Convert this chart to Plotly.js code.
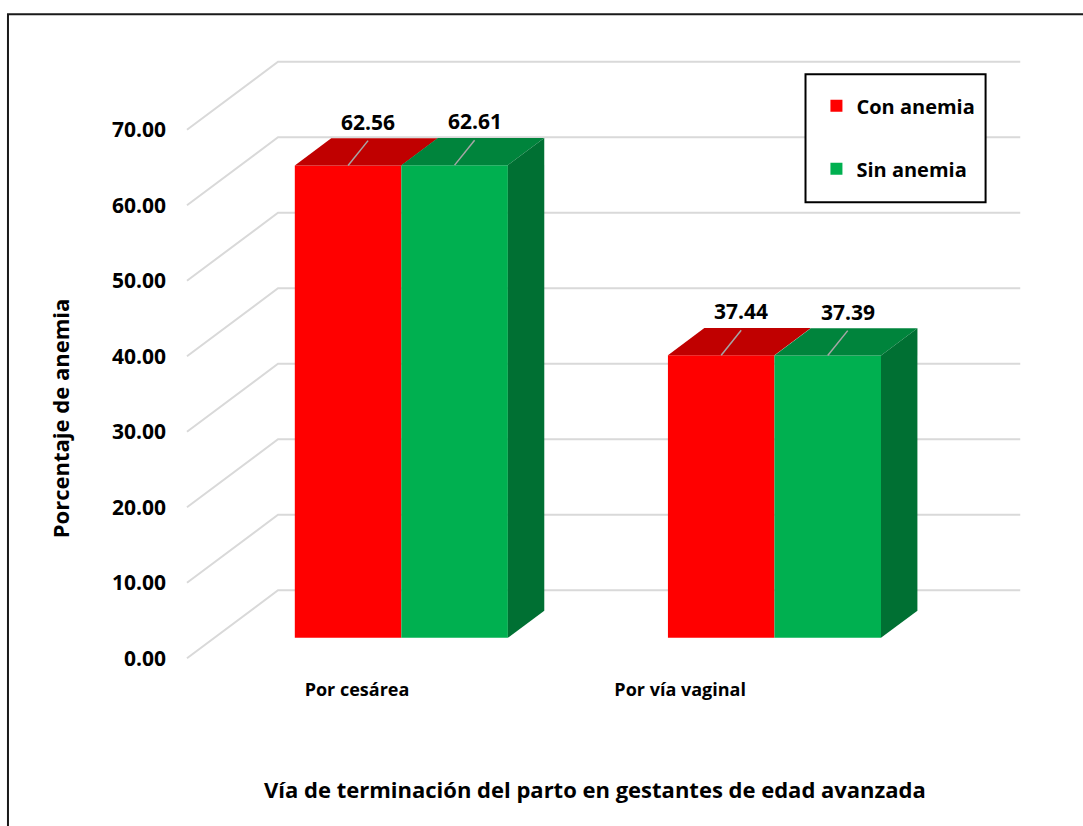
<!DOCTYPE html>
<html>
<head>
<meta charset="utf-8">
<script src="https://cdn.plot.ly/plotly-3.0.1.min.js"></script>
<style>
  html, body { margin: 0; padding: 0; background: #ffffff; }
  #chart { width: 1083px; height: 826px; }
</style>
</head>
<body>
<div id="chart"></div>
<script>
// ---------- data ----------
const categories = ['Por cesárea', 'Por vía vaginal'];
const seriesNames = ['Con anemia', 'Sin anemia'];
const conAnemia = [62.56, 37.44];
const sinAnemia = [62.61, 37.39];
const yTickVals = [0, 10, 20, 30, 40, 50, 60, 70];
const yTickText = ['0.00', '10.00', '20.00', '30.00', '40.00', '50.00', '60.00', '70.00'];
const xTitle = 'Vía de terminación del parto en gestantes de edad avanzada';
const yTitle = 'Porcentaje de anemia';

// ---------- pseudo-3D geometry (axis units) ----------
const DEPTH_X = 0.244;   // full floor depth, x units
const DEPTH_Y = 9.0;     // full floor depth, y units
const T_FRONT = 0.3;     // bar front plane (fraction of depth)
const T_BACK = 0.7;      // bar back plane
const BAR_W = 0.2855;
const X_LEFT = -0.5013;
const X_RIGHT = 1.7319;
const LEADER_DX = 0.0536, LEADER_DY = 3.3;
const CAT_LABEL_POS = [-0.0456, 0.8204];

const dxF = T_FRONT * DEPTH_X, dyF = T_FRONT * DEPTH_Y;
const dxB = T_BACK * DEPTH_X, dyB = T_BACK * DEPTH_Y;

const FONT = 'Open Sans, Noto Sans, sans-serif';
const colors = {
  front: ['#FF0000', '#00B050'],
  top: ['#C00000', '#00843C'],
  side: ['#A00000', '#007033']
};
const seriesValues = [conAnemia, sinAnemia];

const traces = [];
const annotations = [];

// front faces as bars
seriesValues.forEach((vals, s) => {
  traces.push({
    type: 'bar',
    name: seriesNames[s],
    legendgroup: 'g' + s,
    x: categories.map((c, i) => i + dxF),
    y: vals,
    base: vals.map(() => dyF),
    width: BAR_W,
    offset: s === 0 ? -BAR_W : 0,
    marker: { color: colors.front[s], line: { width: 0 } },
    hoverinfo: 'skip'
  });
});

// top faces & visible side faces
seriesValues.forEach((vals, s) => {
  vals.forEach((v, i) => {
    const x0 = s === 0 ? i - BAR_W : i;
    const x1 = s === 0 ? i : i + BAR_W;
    traces.push({
      type: 'scatter', mode: 'lines', fill: 'toself', showlegend: false, hoverinfo: 'skip',
      x: [x0 + dxF, x1 + dxF, x1 + dxB, x0 + dxB, x0 + dxF],
      y: [v + dyF, v + dyF, v + dyB, v + dyB, v + dyF],
      fillcolor: colors.top[s], line: { width: 0, color: colors.top[s] }
    });
    if (s === 1) {
      traces.push({
        type: 'scatter', mode: 'lines', fill: 'toself', showlegend: false, hoverinfo: 'skip',
        x: [x1 + dxF, x1 + dxF, x1 + dxB, x1 + dxB, x1 + dxF],
        y: [dyF, v + dyF, v + dyB, dyB, dyF],
        fillcolor: colors.side[s], line: { width: 0, color: colors.side[s] }
      });
    }
  });
});

// leader lines + data labels
seriesValues.forEach((vals, s) => {
  vals.forEach((v, i) => {
    const xc = (s === 0 ? i - BAR_W / 2 : i + BAR_W / 2) + dxF;
    const xs = [xc, xc + LEADER_DX];
    const ys = [v + dyF, v + dyF + LEADER_DY];
    traces.push({
      type: 'scatter', mode: 'lines', showlegend: false, hoverinfo: 'skip',
      x: xs, y: ys, line: { color: '#A6A6A6', width: 1.5 }
    });
    annotations.push({
      x: xs[1], y: ys[1], xref: 'x', yref: 'y',
      text: v.toFixed(2), showarrow: false,
      yanchor: 'middle', xanchor: 'center', yshift: 19,
      font: { family: FONT, size: 21, weight: 700, color: '#000' }
    });
  });
});

// axis titles
annotations.push({
  xref: 'paper', yref: 'paper', x: 0.4901, y: -0.2106,
  xanchor: 'center', yanchor: 'middle', showarrow: false,
  text: xTitle, font: { family: FONT, size: 22, weight: 700, color: '#000' }
});
annotations.push({
  xref: 'paper', yref: 'paper', x: -0.1417, y: 0.4036,
  xanchor: 'center', yanchor: 'middle', showarrow: false, textangle: -90,
  text: yTitle, font: { family: FONT, size: 22, weight: 700, color: '#000' }
});

// gridlines (back wall + floor diagonals) from tick values
const shapes = yTickVals.map(v => ({
  type: 'path', xref: 'x', yref: 'y', layer: 'below',
  path: `M ${X_LEFT},${v} L ${X_LEFT + DEPTH_X},${v + DEPTH_Y} L ${X_RIGHT},${v + DEPTH_Y}`,
  line: { color: '#D9D9D9', width: 2 }
}));
// legend frame
shapes.push({
  type: 'rect', xref: 'paper', yref: 'paper',
  x0: 0.7385, x1: 0.9511, y0: 0.7613, y1: 0.9732,
  line: { color: '#000000', width: 2 }, fillcolor: '#ffffff', layer: 'above'
});
// outer chart border
shapes.push({
  type: 'rect', xref: 'paper', yref: 'paper',
  x0: -0.2031, x1: 1.25, y0: -0.5, y1: 1.0725,
  line: { color: '#1a1a1a', width: 2 }, fillcolor: 'rgba(0,0,0,0)', layer: 'above'
});

const layout = {
  width: 1083, height: 826,
  margin: { l: 180, r: 56.25, t: 57.8, b: 164.2 },
  paper_bgcolor: '#ffffff', plot_bgcolor: 'rgba(0,0,0,0)',
  barmode: 'overlay',
  showlegend: true,
  legend: {
    x: 0.7514, y: 0.9533, xanchor: 'left', yanchor: 'top',
    bgcolor: 'rgba(0,0,0,0)', borderwidth: 0,
    font: { family: FONT, size: 20, weight: 700, color: '#000' },
    tracegroupgap: 34, itemwidth: 30
  },
  xaxis: {
    range: [-0.52, 1.75], showgrid: false, zeroline: false, showline: false,
    tickvals: CAT_LABEL_POS, ticktext: categories, ticks: '',
    ticklabelstandoff: 15,
    tickfont: { family: FONT, size: 18, weight: 700, color: '#000' }
  },
  yaxis: {
    range: [-0.5, 79.5], showgrid: false, zeroline: false, showline: false,
    tickvals: yTickVals, ticktext: yTickText, ticks: '',
    ticklabelstandoff: 13,
    tickfont: { family: FONT, size: 21, weight: 700, color: '#000' }
  },
  shapes: shapes,
  annotations: annotations
};

Plotly.newPlot('chart', traces, layout, { staticPlot: true, displayModeBar: false });
</script>
</body>
</html>
